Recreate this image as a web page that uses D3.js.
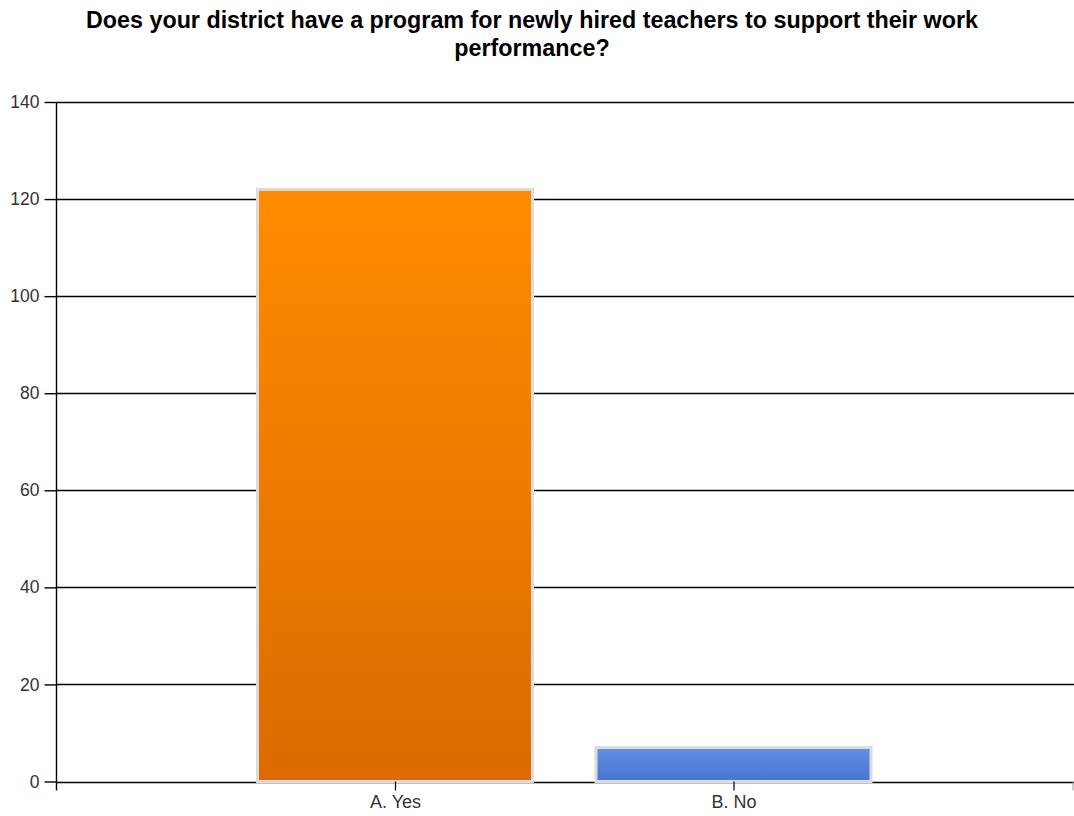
<!DOCTYPE html>
<html>
<head>
<meta charset="utf-8">
<script src="https://cdn.jsdelivr.net/npm/d3@7"></script>
<style>
  html, body { margin: 0; padding: 0; background: #fff; }
  svg { display: block; }
</style>
</head>
<body>
<svg id="chart" width="1074" height="816"></svg>
<script>
// Survey answers and response counts
const categories = ["A. Yes", "B. No"];
const counts = [122, 7];
const yTicks = [0, 20, 40, 60, 80, 100, 120, 140];
const titleLines = [
  "Does your district have a program for newly hired teachers to support their work",
  "performance?"
];
const barColors = [["#FF8C00", "#DC6A00"], ["#6290E6", "#4874CE"]];

const svg = d3.select("#chart");
const width = 1074, height = 816;
const margin = { top: 102, right: 2, bottom: 34.5, left: 56.5 };
const innerW = width - margin.left - margin.right;
const innerH = height - margin.top - margin.bottom;
const font = "Liberation Sans, Arial, sans-serif";

const x = d3.scalePoint().domain(categories).range([0, innerW]).padding(1);
const y = d3.scaleLinear().domain([0, 140]).range([innerH, 0]);
const barW = 275;

// Vertical gradients for the bars
const defs = svg.append("defs");
barColors.forEach((c, i) => {
  const g = defs.append("linearGradient")
    .attr("id", "grad" + i).attr("x1", 0).attr("y1", 0).attr("x2", 0).attr("y2", 1);
  g.append("stop").attr("offset", "0%").attr("stop-color", c[0]);
  g.append("stop").attr("offset", "100%").attr("stop-color", c[1]);
});

// Title
svg.append("g").selectAll("text").data(titleLines).join("text")
  .attr("x", 532).attr("y", (d, i) => 28 + i * 28)
  .attr("text-anchor", "middle")
  .attr("font-family", font)
  .attr("font-weight", "bold").attr("font-size", 23.3)
  .attr("fill", "#000")
  .text(d => d);

const plot = svg.append("g").attr("transform", `translate(${margin.left},${margin.top})`);

// Horizontal gridlines
plot.append("g").selectAll("line").data(yTicks).join("line")
  .attr("x1", 0).attr("x2", innerW + 2)
  .attr("y1", d => Math.round(y(d)) + 0.5).attr("y2", d => Math.round(y(d)) + 0.5)
  .attr("stroke", "#000").attr("stroke-width", 1.4);

// Bars
plot.append("g").selectAll("rect").data(counts).join("rect")
  .attr("x", (d, i) => x(categories[i]) - barW / 2)
  .attr("width", barW)
  .attr("y", d => y(d))
  .attr("height", d => y(0) - y(d))
  .attr("fill", (d, i) => `url(#grad${i})`)
  .attr("stroke", "#dcdcdc").attr("stroke-width", 3);

// Y axis
const yAxis = plot.append("g")
  .call(d3.axisLeft(y).tickValues(yTicks).tickSize(12).tickPadding(5));
yAxis.select(".domain").remove();
yAxis.selectAll(".tick line").attr("stroke", "#000").attr("stroke-width", 1.4);
yAxis.selectAll(".tick text")
  .attr("font-family", font)
  .attr("font-size", 17.5).attr("fill", "#333");
plot.append("line")
  .attr("x1", 0).attr("x2", 0).attr("y1", y(140)).attr("y2", innerH + 9)
  .attr("stroke", "#000").attr("stroke-width", 1.4);

// X axis
const xAxis = plot.append("g").attr("transform", `translate(0,${innerH})`)
  .call(d3.axisBottom(x).tickSize(9).tickPadding(5));
xAxis.select(".domain").remove();
xAxis.selectAll(".tick line").attr("stroke", "#000").attr("stroke-width", 1.2);
xAxis.selectAll(".tick text")
  .attr("font-family", font)
  .attr("font-size", 18).attr("fill", "#333");
plot.append("line")
  .attr("x1", innerW + 1).attr("x2", innerW + 1).attr("y1", innerH).attr("y2", innerH + 9)
  .attr("stroke", "#999").attr("stroke-width", 1);
</script>
</body>
</html>
